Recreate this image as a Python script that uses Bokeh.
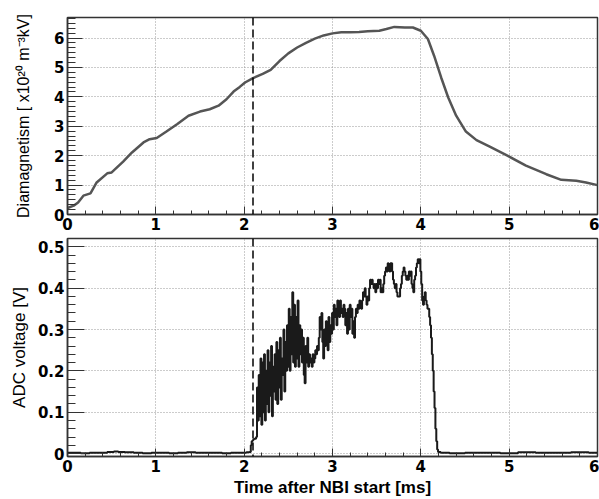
from bokeh.plotting import figure
from bokeh.layouts import column
from bokeh.models import Range1d, Span, FixedTicker
from bokeh.embed import file_html
from bokeh.resources import INLINE

# ---------------- data ----------------
# top panel: diamagnetism signal
dia_t = [0.00, 0.07, 0.12, 0.18, 0.26, 0.33, 0.45, 0.50, 0.63, 0.73, 0.86, 0.93, 1.01,
         1.12, 1.24, 1.37, 1.50, 1.61, 1.71, 1.80, 1.88, 1.95, 2.01, 2.10, 2.21, 2.30,
         2.40, 2.50, 2.60, 2.70, 2.80, 2.90, 3.00, 3.10, 3.20, 3.30, 3.40, 3.53, 3.61,
         3.70, 3.82, 3.91, 4.00, 4.08, 4.15, 4.23, 4.31, 4.40, 4.51, 4.63, 4.78, 4.98,
         5.19, 5.42, 5.59, 5.76, 5.87, 6.00]
dia_v = [0.22, 0.30, 0.41, 0.64, 0.72, 1.09, 1.40, 1.43, 1.80, 2.11, 2.45, 2.56, 2.60,
         2.82, 3.07, 3.36, 3.50, 3.58, 3.70, 3.92, 4.18, 4.34, 4.49, 4.64, 4.78, 4.92,
         5.22, 5.48, 5.68, 5.84, 5.98, 6.09, 6.16, 6.20, 6.20, 6.21, 6.23, 6.25, 6.31,
         6.38, 6.36, 6.36, 6.25, 5.97, 5.40, 4.66, 3.98, 3.36, 2.82, 2.53, 2.31, 2.00,
         1.66, 1.37, 1.18, 1.15, 1.09, 1.00]

# bottom panel: ADC voltage
adc_t_base = [0.0, 0.1, 0.2, 0.3, 0.4, 0.5, 0.55, 0.6, 0.7, 0.8, 0.9, 1.0, 1.1, 1.2,
              1.3, 1.4, 1.5, 1.6, 1.7, 1.8, 1.9, 2.0, 2.05, 2.07]
adc_v_base = [0.002, 0.002, 0.001, 0.002, 0.002, 0.004, 0.005, 0.004, 0.003, 0.002,
              0.001, 0.002, 0.002, 0.001, 0.002, 0.003, 0.002, 0.002, 0.002, 0.001,
              0.002, 0.002, 0.003, 0.004]
adc_v_pulse = [0.020, 0.030, 0.032, 0.035, 0.036, 0.036,                       # 2.08-2.13
               0.04, 0.16, 0.08, 0.19, 0.09, 0.23, 0.07, 0.22, 0.10, 0.24,     # 2.14-2.23
               0.08, 0.20, 0.12, 0.25, 0.10, 0.22, 0.14, 0.26, 0.09, 0.21,     # 2.24-2.33
               0.15, 0.24, 0.13, 0.27, 0.12, 0.25, 0.16, 0.28, 0.13, 0.23,     # 2.34-2.43
               0.19, 0.30, 0.15, 0.27, 0.20, 0.31, 0.21, 0.35, 0.20, 0.33,     # 2.44-2.53
               0.24, 0.39, 0.22, 0.36, 0.21, 0.33, 0.23, 0.37, 0.21, 0.31,     # 2.54-2.63
               0.24, 0.30, 0.22, 0.28, 0.19, 0.17, 0.26, 0.22, 0.28, 0.21,     # 2.64-2.73
               0.24, 0.22, 0.23, 0.21, 0.24, 0.22, 0.23, 0.25, 0.24, 0.26,     # 2.74-2.83
               0.25, 0.28, 0.33, 0.30, 0.34, 0.27, 0.23, 0.30, 0.26, 0.32,     # 2.84-2.93
               0.28, 0.25, 0.33, 0.27, 0.31, 0.29, 0.34, 0.30, 0.36, 0.33,     # 2.94-3.03
               0.35, 0.31, 0.37, 0.34, 0.33, 0.37, 0.34, 0.35, 0.33, 0.36,     # 3.04-3.13
               0.35, 0.31, 0.34, 0.29, 0.35, 0.30, 0.36, 0.33, 0.35, 0.29,     # 3.14-3.23
               0.32, 0.28, 0.33, 0.35, 0.34, 0.36, 0.35, 0.37, 0.36, 0.35,     # 3.24-3.33
               0.37, 0.39, 0.38, 0.40, 0.38, 0.36, 0.38, 0.37, 0.40, 0.42,     # 3.34-3.43
               0.41, 0.42, 0.41, 0.40, 0.41, 0.39, 0.41, 0.40, 0.42, 0.41,     # 3.44-3.53
               0.42, 0.39, 0.40, 0.39, 0.41, 0.43, 0.44, 0.45, 0.44, 0.46,     # 3.54-3.63
               0.45, 0.44, 0.46, 0.46, 0.44, 0.42, 0.41, 0.40, 0.41, 0.39,     # 3.64-3.73
               0.38, 0.38, 0.38, 0.40, 0.41, 0.43, 0.44, 0.45, 0.44, 0.43,     # 3.74-3.83
               0.42, 0.43, 0.42, 0.44, 0.43, 0.44, 0.41, 0.40, 0.39, 0.42,     # 3.84-3.93
               0.43, 0.45, 0.46, 0.47, 0.46, 0.47, 0.44, 0.41, 0.37, 0.36,     # 3.94-4.03
               0.38, 0.39, 0.37, 0.36, 0.35, 0.35, 0.33, 0.31, 0.28, 0.24,     # 4.04-4.13
               0.20, 0.15, 0.11, 0.06, 0.03, 0.01, 0.004]                      # 4.14-4.20
adc_t_tail = [4.25, 4.4, 4.6, 4.8, 5.0, 5.2, 5.4, 5.6, 5.8, 6.0]
adc_v_tail = [0.002, 0.001, 0.002, 0.002, 0.001, 0.003, 0.002, 0.002, 0.003, 0.002]

nbi_marker = 2.1

adc_t_pulse = [round(2.08 + 0.01 * i, 2) for i in range(len(adc_v_pulse))]
adc_t = adc_t_base + adc_t_pulse + adc_t_tail
adc_v = adc_v_base + adc_v_pulse + adc_v_tail

# ---------------- style helpers ----------------
TICK_FONT = "DejaVu Sans"
LBL_FONT = "Liberation Sans"
W = 599
LEFT = 67
RIGHT = 2


def style(p, y_major_in, y_minor_in, ylab_standoff, ylab_size):
    p.outline_line_color = "#333333"
    p.outline_line_width = 1.5
    p.background_fill_color = "white"
    p.border_fill_color = "white"
    for ax in (p.xaxis[0], p.yaxis[0]):
        ax.major_label_text_font = TICK_FONT
        ax.major_label_text_font_style = "bold"
        ax.major_label_text_font_size = "15px"
        ax.major_label_text_color = "black"
        ax.major_tick_out = 0
        ax.minor_tick_out = 0
        ax.axis_line_color = "#333333"
        ax.axis_line_width = 1.5
        ax.major_tick_line_color = "#333333"
        ax.minor_tick_line_color = "#333333"
        ax.major_label_standoff = 3
    p.xaxis[0].major_tick_in = 8
    p.xaxis[0].minor_tick_in = 4
    p.yaxis[0].major_tick_in = y_major_in
    p.yaxis[0].minor_tick_in = y_minor_in
    p.yaxis[0].axis_label_text_font = LBL_FONT
    p.yaxis[0].axis_label_text_font_style = "normal"
    p.yaxis[0].axis_label_text_font_size = ylab_size
    p.yaxis[0].axis_label_text_color = "black"
    p.yaxis[0].axis_label_standoff = ylab_standoff
    for g in (p.xgrid[0], p.ygrid[0]):
        g.grid_line_color = "#999999"
        g.grid_line_dash = "1 2"
        g.grid_line_width = 1


x_major = [0, 1, 2, 3, 4, 5, 6]
x_minor = [i / 5 for i in range(0, 31)]

# ---------------- top panel ----------------
p1 = figure(width=W, height=232, output_backend="svg", toolbar_location=None,
            x_range=Range1d(0, 6), y_range=Range1d(0, 6.7),
            min_border_left=LEFT, min_border_right=RIGHT,
            min_border_top=17, min_border_bottom=17)
p1.line(dia_t, dia_v, line_color="#555555", line_width=2.5)
p1.yaxis.axis_label = "Diamagnetism [ x10²⁰ m⁻³kV]"
p1.xgrid[0].ticker = FixedTicker(ticks=x_major)
p1.ygrid[0].ticker = FixedTicker(ticks=[0, 1, 2, 3, 4, 5, 6])
p1.yaxis[0].ticker = FixedTicker(ticks=[0, 1, 2, 3, 4, 5, 6],
                                 minor_ticks=[i / 6 for i in range(0, 41)])
p1.xaxis[0].ticker = FixedTicker(ticks=x_major, minor_ticks=x_minor)
style(p1, 15, 8, 19, "16px")
p1.add_layout(Span(location=nbi_marker, dimension="height", line_color="black",
                   line_dash="8 4", line_width=1.5))

# ---------------- bottom panel ----------------
p2 = figure(width=W, height=267, output_backend="svg", toolbar_location=None,
            x_range=Range1d(0, 6), y_range=Range1d(-0.007, 0.52),
            min_border_left=LEFT, min_border_right=RIGHT,
            min_border_top=6, min_border_bottom=41)
p2.step(adc_t, adc_v, mode="center", line_color="#1a1a1a", line_width=2)
p2.yaxis.axis_label = "ADC voltage [V]"
p2.xaxis.axis_label = "Time after NBI start [ms]"
p2.xgrid[0].ticker = FixedTicker(ticks=x_major)
p2.ygrid[0].ticker = FixedTicker(ticks=[0, 0.1, 0.2, 0.3, 0.4, 0.5])
p2.yaxis[0].ticker = FixedTicker(ticks=[0, 0.1, 0.2, 0.3, 0.4, 0.5],
                                 minor_ticks=[i / 50 for i in range(0, 27)])
p2.xaxis[0].ticker = FixedTicker(ticks=x_major, minor_ticks=x_minor)
style(p2, 17, 8, 6, "17px")
p2.xaxis[0].axis_label_text_font = LBL_FONT
p2.xaxis[0].axis_label_text_font_style = "bold"
p2.xaxis[0].axis_label_text_font_size = "17px"
p2.xaxis[0].axis_label_text_color = "black"
p2.xaxis[0].axis_label_standoff = 3
p2.add_layout(Span(location=nbi_marker, dimension="height", line_color="black",
                   line_dash="8 4", line_width=1.5))

layout = column(p1, p2)
open("out.html", "w").write(file_html(layout, INLINE))
